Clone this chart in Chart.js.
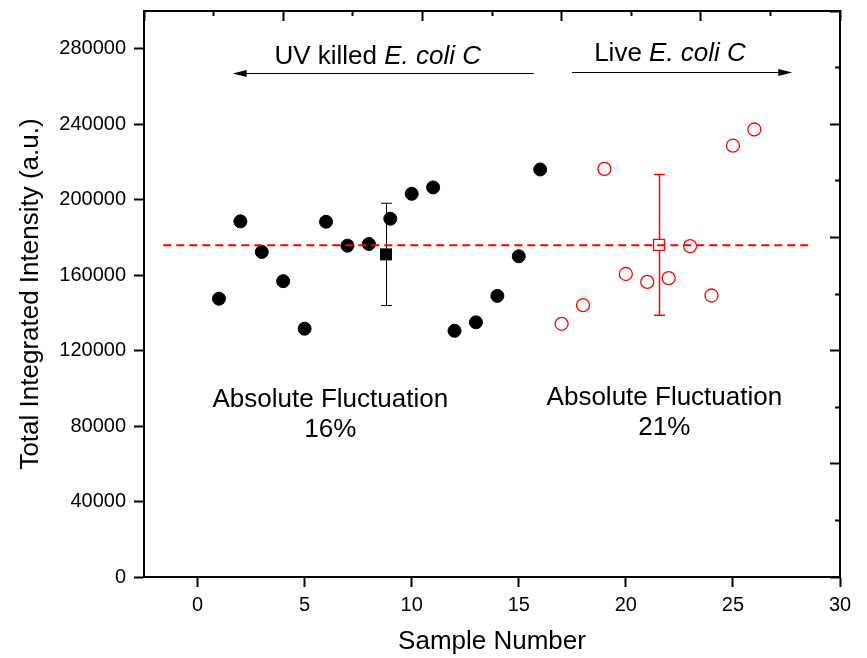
<!DOCTYPE html>
<html>
<head>
<meta charset="utf-8">
<title>Total integrated intensity</title>
<script src="https://cdn.jsdelivr.net/npm/chart.js@4.4.1/dist/chart.umd.min.js"></script>
<style>
  html, body { margin: 0; padding: 0; background: #fff; }
</style>
</head>
<body>
<canvas id="chart" width="867" height="658"></canvas>
<script>
// UV killed samples (filled black circles)
const killedSamples = [1, 2, 3, 4, 5, 6, 7, 8, 9, 10, 11, 12, 13, 14, 15, 16];
const killedIntensity = [147500, 188500, 172300, 156800, 131600, 188300, 175600, 176500,
                         189900, 203100, 206500, 130500, 135000, 149000, 170000, 216000];

// live samples (open red circles)
const liveSamples = [17, 18, 19, 20, 21, 22, 23, 24, 25, 26];
const liveIntensity = [134200, 144100, 216300, 160600, 156400, 158400, 175400, 149200, 228600, 237200];

// group means with their error bars: [killed, live]
const meanSamples = [8.8, 21.55];
const meanIntensity = [171000, 176000];
const meanError = [27100, 37300];

// overall average (dashed red line)
const avgLineX = [-1.6, 28.7];
const avgLineY = [175800, 175800];

// axis ticks
const xTicks = [0, 5, 10, 15, 20, 25, 30];
const xMinorTicks = [-2.5, 2.5, 7.5, 12.5, 17.5, 22.5, 27.5];
const yTicks = [0, 40000, 80000, 120000, 160000, 200000, 240000, 280000];
const yMinorTicks = [20000, 60000, 100000, 140000, 180000, 220000, 260000, 300000];
const frameTicks = [0, 2, 4, 6, 8, 10];
const frameMinorTicks = [1, 3, 5, 7, 9];

const FONT = '"Liberation Sans", Arial, sans-serif';
const black = '#000000';
const red = '#ff0000';

// text labels and arrows, placed in data coordinates
const notes = [
    { x: 3.59, y: 271900, align: 'left', parts: [['UV killed ', false], ['E. coli C', true]] },
    { x: 18.52, y: 273500, align: 'left', parts: [['Live ', false], ['E. coli C', true]] },
    { x: 6.2, y: 90000, align: 'center', parts: [['Absolute Fluctuation', false]] },
    { x: 6.2, y: 74400, align: 'center', parts: [['16%', false]] },
    { x: 21.8, y: 91200, align: 'center', parts: [['Absolute Fluctuation', false]] },
    { x: 21.8, y: 75300, align: 'center', parts: [['21%', false]] }
];
const arrows = [
    { from: [15.7, 267300], to: [1.64, 267300] },
    { from: [17.49, 267800], to: [27.77, 267800] }
];

function useTicks(values) {
    return function(scale) {
        scale.ticks = values.map(function(v) { return { value: v }; });
    };
}
function fixedSize(size) {
    return function(scale) {
        if (scale.isHorizontal()) scale.height = size;
        else scale.width = size;
        // no extra room for overhanging labels
        scale.paddingTop = 0;
        scale.paddingBottom = 0;
        scale.paddingLeft = 0;
        scale.paddingRight = 0;
    };
}
// extra axis that only draws tick marks
function tickAxis(position, min, max, values, length) {
    return {
        type: 'linear', position: position, min: min, max: max,
        afterBuildTicks: useTicks(values),
        afterFit: fixedSize(0),
        ticks: { display: false, autoSkip: false },
        grid: { drawOnChartArea: false, tickLength: length, tickWidth: 2, tickColor: black },
        border: { display: false }
    };
}

const errorBars = {
    id: 'errorBars',
    beforeDatasetsDraw: function(chart) {
        const ctx = chart.ctx;
        const xs = chart.scales.x, ys = chart.scales.y;
        const colors = [black, red];
        const widths = [1, 1.5];
        ctx.save();
        meanSamples.forEach(function(s, i) {
            const px = Math.round(xs.getPixelForValue(s)) + 0.5;
            const top = ys.getPixelForValue(meanIntensity[i] + meanError[i]);
            const bottom = ys.getPixelForValue(meanIntensity[i] - meanError[i]);
            ctx.strokeStyle = colors[i];
            ctx.lineWidth = widths[i];
            ctx.beginPath();
            ctx.moveTo(px, top); ctx.lineTo(px, bottom);
            ctx.moveTo(px - 5.5, top); ctx.lineTo(px + 5.5, top);
            ctx.moveTo(px - 5.5, bottom); ctx.lineTo(px + 5.5, bottom);
            ctx.stroke();
        });
        ctx.restore();
    }
};

const notesPlugin = {
    id: 'notes',
    afterDatasetsDraw: function(chart) {
        const ctx = chart.ctx;
        const xs = chart.scales.x, ys = chart.scales.y;
        ctx.save();
        ctx.fillStyle = black;
        ctx.textBaseline = 'alphabetic';
        notes.forEach(function(n) {
            let total = 0;
            const widths = n.parts.map(function(p) {
                ctx.font = (p[1] ? 'italic ' : '') + '26px ' + FONT;
                const w = ctx.measureText(p[0]).width;
                total += w;
                return w;
            });
            let px = xs.getPixelForValue(n.x);
            if (n.align === 'center') px -= total / 2;
            const py = ys.getPixelForValue(n.y);
            ctx.textAlign = 'left';
            n.parts.forEach(function(p, i) {
                ctx.font = (p[1] ? 'italic ' : '') + '26px ' + FONT;
                ctx.fillText(p[0], px, py);
                px += widths[i];
            });
        });

        ctx.strokeStyle = black;
        ctx.lineWidth = 1;
        arrows.forEach(function(a) {
            const x1 = xs.getPixelForValue(a.from[0]);
            const x2 = xs.getPixelForValue(a.to[0]);
            const y = Math.round(ys.getPixelForValue(a.from[1])) + 0.5;
            const dir = x2 > x1 ? 1 : -1;
            ctx.beginPath();
            ctx.moveTo(x1, y);
            ctx.lineTo(x2 - dir * 10, y);
            ctx.stroke();
            ctx.beginPath();
            ctx.moveTo(x2, y);
            ctx.lineTo(x2 - dir * 14, y - 3.5);
            ctx.lineTo(x2 - dir * 14, y + 3.5);
            ctx.closePath();
            ctx.fill();
        });
        ctx.restore();
    }
};

new Chart(document.getElementById('chart').getContext('2d'), {
    type: 'scatter',
    data: {
        datasets: [
            {
                label: 'Average',
                type: 'line',
                data: avgLineX.map(function(x, i) { return { x: x, y: avgLineY[i] }; }),
                borderColor: red,
                borderWidth: 2,
                borderDash: [8, 5],
                pointRadius: 0,
                fill: false,
                order: 0
            },
            {
                label: 'Killed mean',
                data: [{ x: meanSamples[0], y: meanIntensity[0] }],
                pointStyle: 'rect',
                pointRadius: 8.5,
                backgroundColor: black,
                borderColor: black,
                borderWidth: 0,
                order: 1
            },
            {
                label: 'Live mean',
                data: [{ x: meanSamples[1], y: meanIntensity[1] }],
                pointStyle: 'rect',
                pointRadius: 7.8,
                backgroundColor: '#ffffff',
                borderColor: red,
                borderWidth: 1.3,
                order: 1
            },
            {
                label: 'UV killed E. coli C',
                data: killedSamples.map(function(x, i) { return { x: x, y: killedIntensity[i] }; }),
                pointRadius: 6.5,
                backgroundColor: black,
                borderColor: black,
                borderWidth: 1,
                order: 2
            },
            {
                label: 'Live E. coli C',
                data: liveSamples.map(function(x, i) { return { x: x, y: liveIntensity[i] }; }),
                pointRadius: 6.5,
                backgroundColor: 'rgba(0,0,0,0)',
                borderColor: red,
                borderWidth: 1.3,
                order: 2
            }
        ]
    },
    options: {
        responsive: false,
        animation: false,
        layout: { padding: { left: 0, right: 27, top: 11, bottom: 0 } },
        plugins: {
            legend: { display: false },
            tooltip: { enabled: false }
        },
        scales: {
            x: {
                type: 'linear', position: 'bottom', min: -2.5, max: 30,
                afterBuildTicks: useTicks(xTicks),
                afterFit: fixedSize(81),
                ticks: {
                    color: black, autoSkip: false, maxRotation: 0, padding: 6,
                    font: { family: FONT, size: 20 },
                    callback: function(v) { return String(v); }
                },
                grid: { drawOnChartArea: false, tickLength: 10, tickWidth: 2, tickColor: black },
                border: { color: black, width: 2 },
                title: {
                    display: true, text: 'Sample Number', color: black,
                    font: { family: FONT, size: 26 },
                    padding: { top: 0, bottom: 1 }
                }
            },
            xMinor: tickAxis('bottom', -2.5, 30, xMinorTicks, 5),
            y: {
                type: 'linear', position: 'left', min: 0, max: 300000,
                afterBuildTicks: useTicks(yTicks),
                afterFit: fixedSize(144),
                ticks: {
                    color: black, autoSkip: false, padding: 8,
                    font: { family: FONT, size: 20 },
                    callback: function(v) { return String(v); }
                },
                grid: { drawOnChartArea: false, tickLength: 10, tickWidth: 2, tickColor: black },
                border: { color: black, width: 2 },
                title: {
                    display: true, text: 'Total Integrated Intensity (a.u.)', color: black,
                    font: { family: FONT, size: 26 },
                    padding: { top: 15, bottom: 0 }
                }
            },
            yMinor: tickAxis('left', 0, 300000, yMinorTicks, 5),
            // frame axes on top and right, inward ticks
            xTop: Object.assign(tickAxis('top', 0, 10, frameTicks, -10), { border: { color: black, width: 2 } }),
            xTopMinor: tickAxis('top', 0, 10, frameMinorTicks, -5),
            yRight: Object.assign(tickAxis('right', 0, 10, frameTicks, -10), { border: { color: black, width: 2 } }),
            yRightMinor: tickAxis('right', 0, 10, frameMinorTicks, -5)
        }
    },
    plugins: [errorBars, notesPlugin]
});
</script>
</body>
</html>
